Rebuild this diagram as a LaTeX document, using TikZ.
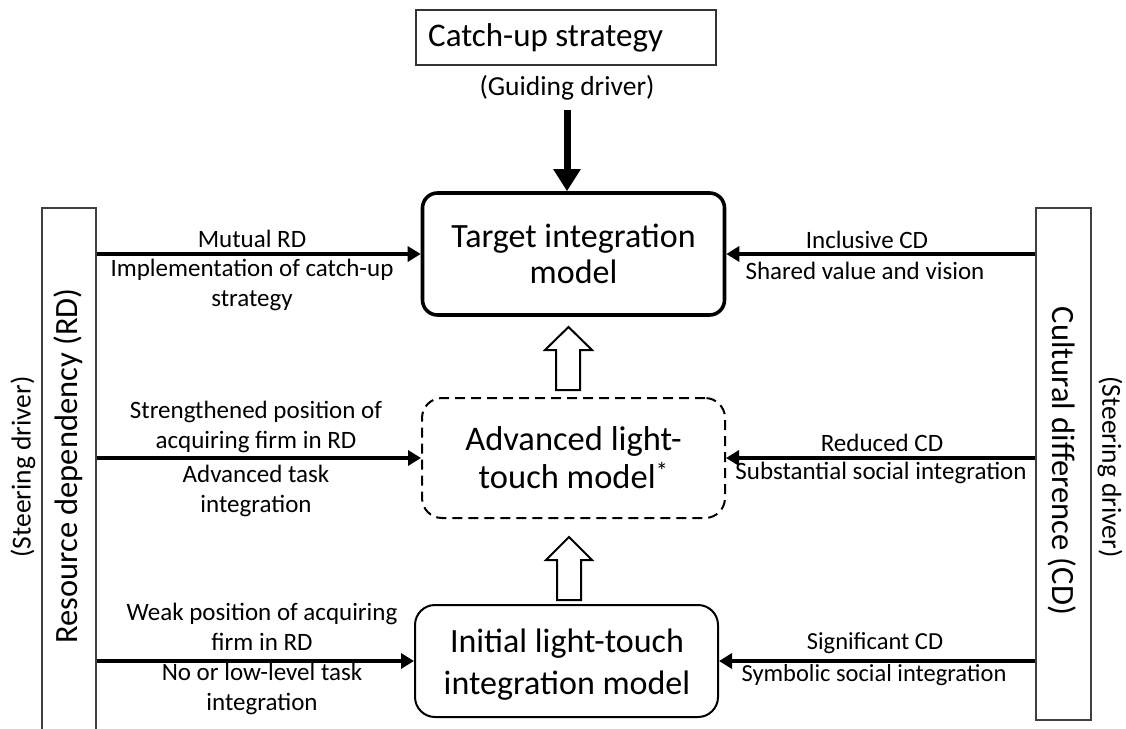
\documentclass[tikz,border=0pt]{standalone}
\usepackage{fontspec}
\setmainfont{Carlito}
\usetikzlibrary{arrows.meta}
\tikzset{
  big/.style={font=\fontsize{34}{36}\selectfont, align=center},
  lbl/.style={font=\fontsize{25}{30}\selectfont, align=center, inner sep=0pt},
  sml/.style={font=\fontsize{24.5}{30}\selectfont, align=center, inner sep=0pt},
  paren/.style={font=\fontsize{27.5}{30}\selectfont, align=center, inner sep=0pt},
  conn/.style={line width=3.6pt, -{Triangle[length=13pt,width=15pt]}},
  mainconn/.style={line width=7pt, -{Triangle[length=22pt,width=26pt]}},
  sidebox/.style={draw=black!75, line width=1.5pt, inner sep=0pt},
  blockarrow/.style={draw, line width=2pt, fill=white, line join=miter},
}
\begin{document}
\begin{tikzpicture}[x=1pt,y=-1pt]
\useasboundingbox[fill=white] (0,0) rectangle (1126,728);

% top strategy box
\node[draw=black!80, line width=1.5pt, minimum width=300pt, minimum height=55pt] (catch) at (566,37.5) {};
\node[anchor=west, inner sep=0pt, font=\fontsize{33}{36}\selectfont] (catchtext) at (428,37.5) {Catch-up strategy};
\node[paren] (guide) at (567,88) {(Guiding driver)};

% central models
\node[draw, line width=3.6pt, rounded corners=15pt, minimum width=302pt, minimum height=122pt, big] (target) at (573.5,254) {Target integration\\model};
\node[draw, line width=2pt, dash pattern=on 10pt off 6pt, rounded corners=20pt, minimum width=303pt, minimum height=120pt, font=\fontsize{34.5}{38}\selectfont, align=center] (adv) at (573.5,458) {Advanced light-\\touch model\textsuperscript{*}};
\node[draw, line width=2pt, rounded corners=20pt, minimum width=303pt, minimum height=112pt] (init) at (566.5,661) {};
\node[font=\fontsize{34}{42}\selectfont, align=center, inner sep=0pt] (inittext) at (567,665) {Initial light-touch\\integration model};

% side drivers
\node[sidebox, minimum width=54pt, minimum height=532pt] (rd) at (69,474) {};
\node[rotate=90, inner sep=0pt, font=\fontsize{32.5}{36}\selectfont] (rdtext) at (68,466) {Resource dependency (RD)};
\node[paren, rotate=90] (steerL) at (23,467) {(Steering driver)};
\node[sidebox, minimum width=55pt, minimum height=512pt] (cd) at (1063.5,464) {};
\node[rotate=-90, inner sep=0pt, font=\fontsize{32.5}{36}\selectfont] (cdtext) at (1062,461) {Cultural difference (CD)};
\node[paren, rotate=-90] (steerR) at (1110,467) {(Steering driver)};

% main guiding arrow
\draw[mainconn] (guide.south |- 0,110) -- (guide.south |- target.north);

% left connectors
\draw[conn] (rd.east |- target.west) -- (target.west);
\draw[conn] (rd.east |- adv.west) -- (adv.west);
\draw[conn] (rd.east |- init.west) -- (init.west);
% right connectors
\draw[conn] (cd.west |- target.east) -- (target.east);
\draw[conn] (cd.west |- adv.east) -- (adv.east);
\draw[conn] (cd.west |- init.east) -- (init.east);

% left labels
\node[lbl] (l1a) at (252,239) {Mutual RD};
\node[lbl] (l1b) at (252,285) {Implementation of catch-up\\strategy};
\node[lbl] (l2a) at (256,427) {Strengthened position of\\acquiring firm in RD};
\node[lbl] (l2b) at (256,491) {Advanced task\\integration};
\node[lbl] (l3a) at (262,627) {Weak position of acquiring\\firm in RD};
\node[lbl] (l3b) at (262,689) {No or low-level task\\integration};

% right labels
\node[lbl] (r1a) at (867,240) {Inclusive CD};
\node[lbl] (r1b) at (865,271) {Shared value and vision};
\node[lbl] (r2a) at (882,443) {Reduced CD};
\node[lbl] (r2b) at (881,473) {Substantial social integration};
\node[sml] (r3a) at (875,643) {Significant CD};
\node[sml] (r3b) at (874,675) {Symbolic social integration};

% open block arrows
\draw[blockarrow] (568.5,327) -- (592,350) -- (580,350) -- (580,390) -- (556,390) -- (556,350) -- (545,350) -- cycle;
\draw[blockarrow] (569,537) -- (592,560) -- (581,560) -- (581,600) -- (557,600) -- (557,560) -- (546,560) -- cycle;
\end{tikzpicture}
\end{document}
